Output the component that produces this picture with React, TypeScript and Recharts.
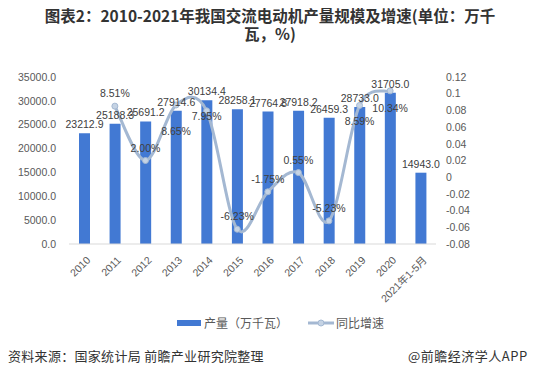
import { ComposedChart, Bar, Line, XAxis, YAxis, LabelList } from "recharts"

const years = ["2010", "2011", "2012", "2013", "2014", "2015", "2016", "2017", "2018", "2019", "2020", "2021年1-5月"]
const output = [23212.9, 25188.3, 25691.2, 27914.6, 30134.4, 28258.1, 27764.8, 27918.2, 26459.3, 28733.0, 31705.0, 14943.0]
const growth = [null, 0.0851, 0.02, 0.0865, 0.0795, -0.0623, -0.0175, 0.0055, -0.0523, 0.0859, 0.1034, null]
const leftTicks = [0, 5000, 10000, 15000, 20000, 25000, 30000, 35000]
const rightTicks = [-0.08, -0.06, -0.04, -0.02, 0, 0.02, 0.04, 0.06, 0.08, 0.1, 0.12]

const data = years.map((y, i) => ({ year: y, output: output[i], growth: growth[i] }))

const BAR = "#4279D3"
const LINE = "#A4B8D2"
const FONT = "'Liberation Sans', 'Noto Sans CJK SC', sans-serif"
const CJK = "'Noto Sans CJK SC', sans-serif"

// vertical shift of the % labels (negative = above the point)
const growthLabelDy: Record<number, number> = { 3: 26, 4: 5, 9: 16, 10: 17 }

// Excel-like smooth line (Catmull-Rom)
function smoothCurve(context: any) {
  let pts: number[][] = []
  return {
    areaStart() {},
    areaEnd() {},
    lineStart() {
      pts = []
    },
    point(x: number, y: number) {
      pts.push([+x, +y])
    },
    lineEnd() {
      if (!pts.length) return
      context.moveTo(pts[0][0], pts[0][1])
      for (let i = 0; i < pts.length - 1; i++) {
        const p0 = pts[i - 1] || pts[i]
        const p1 = pts[i]
        const p2 = pts[i + 1]
        const p3 = pts[i + 2] || p2
        context.bezierCurveTo(
          p1[0] + (p2[0] - p0[0]) / 6,
          p1[1] + (p2[1] - p0[1]) / 6,
          p2[0] - (p3[0] - p1[0]) / 6,
          p2[1] - (p3[1] - p1[1]) / 6,
          p2[0],
          p2[1]
        )
      }
    },
  }
}

const XTick = (props: any) => {
  const { x, y, payload } = props
  return (
    <g transform={`translate(${x + 4},${y + 6})`}>
      <text
        x={0}
        y={0}
        dy={4}
        textAnchor="end"
        transform="rotate(-45)"
        fontSize={10.5}
        fill="#595959"
        fontFamily={FONT}
      >
        {payload.value}
      </text>
    </g>
  )
}

const GrowthLabel = (props: any) => {
  const { x, y, value, index } = props
  if (value == null) return null
  const dy = growthLabelDy[index] ?? -13
  return (
    <text
      x={x}
      y={y + dy}
      dy={4}
      textAnchor="middle"
      fontSize={10.5}
      fill="#404040"
      fontFamily={FONT}
    >
      {(value * 100).toFixed(2) + "%"}
    </text>
  )
}

export default function App() {
  return (
    <div style={{ position: "absolute", top: 0, left: 0, width: 540, height: 382, background: "#fff", overflow: "hidden" }}>
      <div
        style={{
          position: "absolute",
          top: 6,
          left: 0,
          width: 540,
          textAlign: "center",
          fontSize: 15.5,
          lineHeight: "18px",
          fontWeight: "bold",
          color: "#333",
          fontFamily: CJK,
          whiteSpace: "nowrap",
        }}
      >
        图表2：2010-2021年我国交流电动机产量规模及增速(单位：万千
        <br />
        瓦，%)
      </div>
      <div style={{ position: "absolute", top: 0, left: 0 }}>
        <ComposedChart width={540} height={382} data={data} margin={{ top: 77, right: 52, bottom: 78, left: 0 }}>
          <XAxis
            dataKey="year"
            interval={0}
            tick={<XTick />}
            tickLine={false}
            axisLine={{ stroke: "#D9D9D9" }}
            height={60}
          />
          <YAxis
            yAxisId="left"
            domain={[0, 35000]}
            ticks={leftTicks}
            interval={0}
            width={69}
            axisLine={false}
            tickLine={false}
            tickSize={0}
            tickMargin={13}
            tickFormatter={(v: number) => v.toFixed(1)}
            tick={{ fontSize: 10.5, fill: "#595959", fontFamily: FONT }}
          />
          <YAxis
            yAxisId="right"
            orientation="right"
            domain={[-0.08, 0.12]}
            ticks={rightTicks}
            interval={0}
            width={52}
            axisLine={false}
            tickLine={false}
            tickSize={0}
            tickMargin={10}
            tickFormatter={(v: number) => String(Math.round(v * 100) / 100)}
            tick={{ fontSize: 10.5, fill: "#595959", fontFamily: FONT, textAnchor: "start" }}
          />
          <Bar yAxisId="left" dataKey="output" fill={BAR} barSize={11} isAnimationActive={false}>
            <LabelList
              dataKey="output"
              position="top"
              offset={5}
              formatter={(v: number) => v.toFixed(1)}
              style={{ fontSize: 10.5, fill: "#404040", fontFamily: FONT }}
            />
          </Bar>
          <Line
            yAxisId="right"
            dataKey="growth"
            type={smoothCurve as any}
            stroke={LINE}
            strokeWidth={3}
            dot={{ r: 3, fill: "#C5D3E4", stroke: LINE, strokeWidth: 1 }}
            isAnimationActive={false}
          >
            <LabelList dataKey="growth" content={<GrowthLabel />} />
          </Line>
        </ComposedChart>
      </div>
      <div
        style={{
          position: "absolute",
          top: 314,
          left: 177,
          display: "flex",
          alignItems: "center",
          fontSize: 12,
          color: "#595959",
          fontFamily: CJK,
          whiteSpace: "nowrap",
        }}
      >
        <span style={{ display: "inline-block", width: 24, height: 6, background: BAR, marginRight: 3 }} />
        <span>产量（万千瓦）</span>
        <svg width={26} height={10} style={{ marginLeft: 20, marginRight: 2 }}>
          <line x1={0} y1={5} x2={26} y2={5} stroke={LINE} strokeWidth={3} />
          <circle cx={13} cy={5} r={3} fill="#C5D3E4" stroke={LINE} />
        </svg>
        <span>同比增速</span>
      </div>
      <div
        style={{
          position: "absolute",
          top: 346,
          left: 8,
          fontSize: 13,
          letterSpacing: 0.3,
          color: "#333",
          fontFamily: CJK,
          whiteSpace: "nowrap",
        }}
      >
        资料来源：国家统计局 前瞻产业研究院整理
      </div>
      <div
        style={{
          position: "absolute",
          top: 346,
          left: 408,
          fontSize: 13,
          letterSpacing: 0.5,
          color: "#333",
          fontFamily: CJK,
          whiteSpace: "nowrap",
        }}
      >
        @前瞻经济学人APP
      </div>
    </div>
  )
}
